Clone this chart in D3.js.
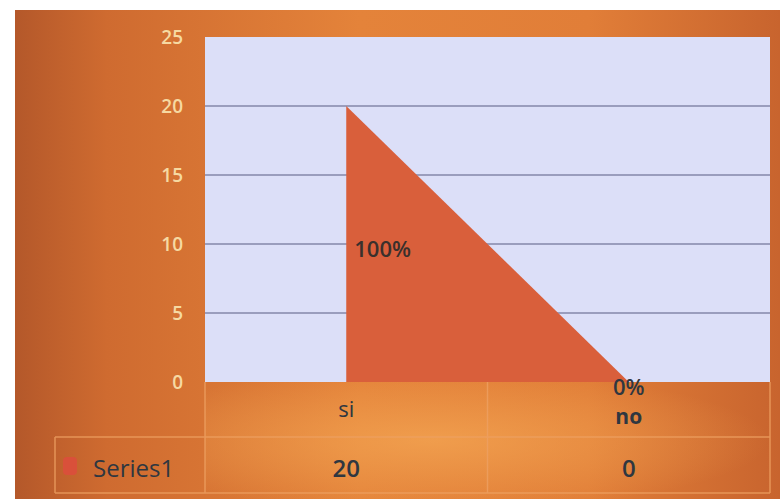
<!DOCTYPE html>
<html><head><meta charset="utf-8">
<script src="https://cdn.jsdelivr.net/npm/d3@7"></script>
<style>html,body{margin:0;padding:0;background:#fff;}svg{display:block;}</style>
</head><body>
<svg id="c" width="780" height="499"></svg>
<script>
const categories = ["si", "no"];
const values = [20, 0];
const pctLabels = ["100%", "0%"];
const yTicks = [0, 5, 10, 15, 20, 25];
const seriesName = "Series1";

const svg = d3.select("#c");
const defs = svg.append("defs");
const g1 = defs.append("linearGradient").attr("id","bg").attr("x1","0").attr("x2","1").attr("y1","0").attr("y2","0");
[[0,"#b4582a"],[0.12,"#cf6b30"],[0.45,"#e4833a"],[0.75,"#e17e38"],[1,"#c8642e"]].forEach(([o,c])=>g1.append("stop").attr("offset",o).attr("stop-color",c));
const g2 = defs.append("radialGradient").attr("id","glow").attr("cx","0.4").attr("cy","0.5").attr("r","0.6");
g2.append("stop").attr("offset",0).attr("stop-color","#f4a653").attr("stop-opacity",0.75);
g2.append("stop").attr("offset",1).attr("stop-color","#f4a653").attr("stop-opacity",0);

svg.append("rect").attr("x",15).attr("y",10).attr("width",765).attr("height",489).attr("fill","url(#bg)");
svg.append("rect").attr("x",205).attr("y",382).attr("width",565).attr("height",117).attr("fill","url(#glow)");

const plot = {l:205, r:770, t:37, b:382};
const y = d3.scaleLinear().domain([0,25]).range([plot.b, plot.t]);
const x = d3.scalePoint().domain(categories).range([plot.l, plot.r]).padding(0.5);
const xb = d3.scaleBand().domain(categories).range([plot.l, plot.r]);

svg.append("rect").attr("x",plot.l).attr("y",plot.t).attr("width",plot.r-plot.l).attr("height",plot.b-plot.t).attr("fill","#dcdff8");

svg.append("g").selectAll("line").data(yTicks.filter(d=>d>0 && d<25)).join("line")
  .attr("x1",plot.l).attr("x2",plot.r).attr("y1",d=>y(d)).attr("y2",d=>y(d))
  .attr("stroke","#8487aa").attr("stroke-width",1.5);

const data = categories.map((c,i)=>({c, v:values[i], p:pctLabels[i]}));
const area = d3.area().x(d=>x(d.c)).y0(y(0)).y1(d=>y(d.v));
svg.append("path").datum(data).attr("d",area).attr("fill","#d95f3b");

const F = "Open Sans, sans-serif";
const ink = "#2f3740";
// y axis labels
svg.append("g").selectAll("text").data(yTicks).join("text")
  .attr("x",183).attr("y",d=>y(d)).attr("dy","0.35em").attr("text-anchor","end")
  .attr("font-family",F).attr("font-size",19).attr("font-weight",600).attr("fill","#f6d9a2")
  .text(d=>d);

// data labels
svg.append("text").attr("x",x(categories[0])+8).attr("y",y(10)+13).attr("font-family",F)
  .attr("font-size",22).attr("font-weight",600).attr("fill","#3a302c").text(data[0].p);
svg.append("text").attr("x",x(categories[1])).attr("y",y(0)+13).attr("text-anchor","middle").attr("font-family",F)
  .attr("font-size",22).attr("font-weight",600).attr("fill",ink).text(data[1].p);

// data table
const tbl = svg.append("g").attr("stroke","#eea062").attr("stroke-width",1.5).attr("fill","none").attr("opacity",0.8);
tbl.append("line").attr("x1",plot.l).attr("x2",plot.l).attr("y1",plot.b).attr("y2",493);
tbl.append("line").attr("x1",xb("no")).attr("x2",xb("no")).attr("y1",plot.b).attr("y2",493);
tbl.append("line").attr("x1",55).attr("x2",plot.r).attr("y1",437).attr("y2",437);
tbl.append("line").attr("x1",55).attr("x2",plot.r).attr("y1",493).attr("y2",493);
tbl.append("line").attr("x1",55).attr("x2",55).attr("y1",437).attr("y2",493);
tbl.append("line").attr("x1",plot.r).attr("x2",plot.r).attr("y1",plot.b).attr("y2",493);

svg.append("g").selectAll("text").data(categories).join("text")
  .attr("x",d=>x(d)).attr("y",(d,i)=>i===0?417:424).attr("text-anchor","middle")
  .attr("font-family",F).attr("font-size",(d,i)=>i===0?22:21).attr("font-weight",(d,i)=>i===0?500:700).attr("fill",ink).text(d=>d);
svg.append("g").selectAll("text").data(data).join("text")
  .attr("x",d=>x(d.c)).attr("y",477).attr("text-anchor","middle")
  .attr("font-family",F).attr("font-size",24).attr("font-weight",600).attr("fill",ink).text(d=>d.v);

svg.append("rect").attr("x",63).attr("y",457).attr("width",14).attr("height",18).attr("rx",4).attr("fill","#d9503a");
svg.append("text").attr("x",93).attr("y",477).attr("font-family",F).attr("font-size",24).attr("font-weight",500).attr("fill",ink).text(seriesName);
</script>
</body></html>
